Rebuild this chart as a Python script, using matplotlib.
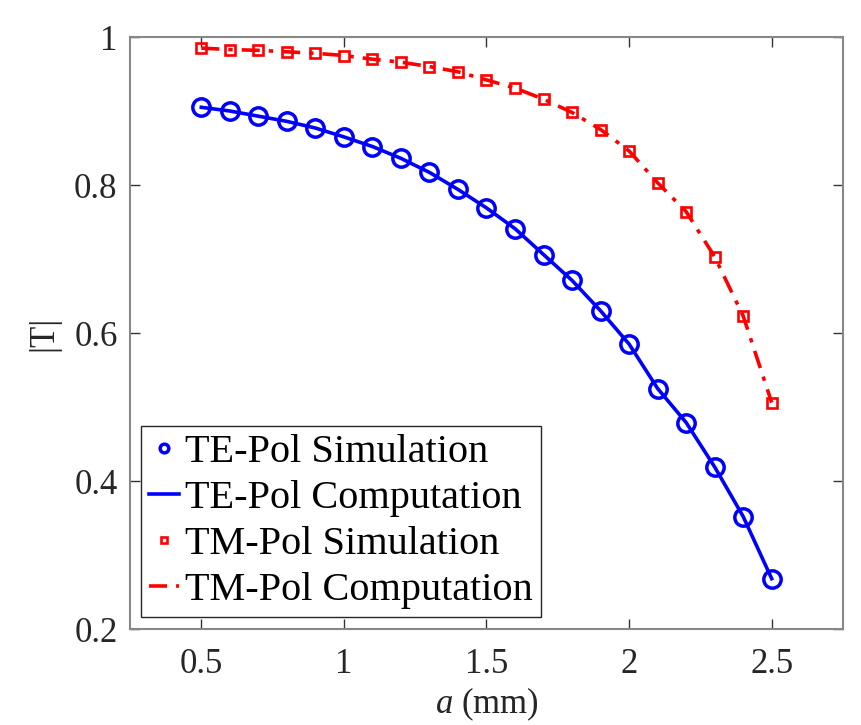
import matplotlib
matplotlib.use("Agg")
import matplotlib.pyplot as plt
import numpy as np

plt.rcParams['font.family'] = ['Liberation Serif', 'DejaVu Serif']
plt.rcParams['mathtext.fontset'] = 'custom'
plt.rcParams['mathtext.rm'] = 'Liberation Serif'
plt.rcParams['mathtext.it'] = 'Liberation Serif:italic'

a_mm = [0.5, 0.6, 0.7, 0.8, 0.9, 1.0, 1.1, 1.2, 1.3, 1.4, 1.5,
        1.6, 1.7, 1.8, 1.9, 2.0, 2.1, 2.2, 2.3, 2.4, 2.5]
te_sim = [0.905, 0.900, 0.893, 0.886, 0.877, 0.865, 0.852, 0.836, 0.817, 0.794, 0.769,
          0.741, 0.706, 0.671, 0.630, 0.585, 0.525, 0.479, 0.419, 0.352, 0.268]
te_comp = [0.905, 0.900, 0.893, 0.886, 0.877, 0.865, 0.852, 0.836, 0.817, 0.794, 0.769,
           0.741, 0.706, 0.671, 0.630, 0.585, 0.525, 0.479, 0.419, 0.352, 0.268]
tm_sim = [0.985, 0.983, 0.982, 0.980, 0.978, 0.975, 0.970, 0.966, 0.960, 0.953, 0.942,
          0.931, 0.916, 0.898, 0.875, 0.846, 0.803, 0.764, 0.703, 0.623, 0.506]
tm_comp = [0.985, 0.983, 0.982, 0.980, 0.978, 0.975, 0.970, 0.966, 0.960, 0.953, 0.942,
           0.931, 0.916, 0.898, 0.875, 0.846, 0.803, 0.764, 0.703, 0.623, 0.506]
labels = ['TE-Pol Simulation', 'TE-Pol Computation', 'TM-Pol Simulation', 'TM-Pol Computation']
xticks = [0.5, 1, 1.5, 2, 2.5]
yticks = [0.2, 0.4, 0.6, 0.8, 1.0]

fig = plt.figure(figsize=(8.61, 7.25), dpi=100)
ax = fig.add_axes([130/861, 1 - 629/725, 713/861, 592/725])

blue = '#0000FF'
red = '#FF0000'
h1, = ax.plot(a_mm, te_sim, linestyle='none', marker='o', markersize=12.5,
              markerfacecolor='none', markeredgecolor=blue, markeredgewidth=2.5, label=labels[0], zorder=3)
h2, = ax.plot(a_mm, te_comp, '-', color=blue, linewidth=2.6, label=labels[1], zorder=2)
h3, = ax.plot(a_mm, tm_sim, linestyle='none', marker='s', markersize=7.5,
              markerfacecolor='none', markeredgecolor=red, markeredgewidth=1.9, label=labels[2], zorder=3)
h4, = ax.plot(a_mm, tm_comp, color=red, linestyle=(0, (5, 2.5, 1.2, 2.5)), linewidth=2.6, label=labels[3], zorder=2)

ax.set_xlim(0.25, 2.75)
ax.set_ylim(0.2, 1.0)
ax.set_xticks(xticks)
ax.set_xticklabels(['0.5', '1', '1.5', '2', '2.5'])
ax.set_yticks(yticks)
ax.set_yticklabels(['0.2', '0.4', '0.6', '0.8', '1'])
ax.tick_params(direction='in', length=7, width=1, colors='#333333', labelcolor='#262626',
               labelsize=25, top=True, right=True, pad=9)
ax.tick_params(axis='x', pad=14)
for s in ax.spines.values():
    s.set_color('#888888')
    s.set_linewidth(1.5)

ax.set_xlabel(r'$a$ (mm)', fontsize=25, color='#262626', labelpad=3)
ax.set_ylabel('|T|', fontsize=25, color='#262626', labelpad=10)

leg = ax.legend(handles=[h1, h2, h3, h4], loc='lower left', bbox_to_anchor=(0.0154, 0.0203),
                borderaxespad=0, fontsize=29, frameon=True, fancybox=False,
                edgecolor='#262626', framealpha=1, handlelength=0.75, handletextpad=0.15,
                labelspacing=0.22, borderpad=0.2, markerscale=0.5)
leg.get_frame().set_linewidth(1.0)

fig.savefig('out.png', dpi=100)
